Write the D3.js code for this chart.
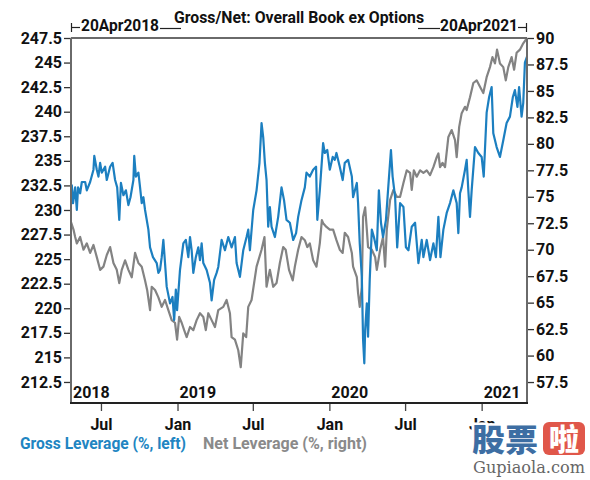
<!DOCTYPE html>
<html>
<head>
<meta charset="utf-8">
<script src="https://cdn.jsdelivr.net/npm/d3@7"></script>
<style>
  html, body { margin: 0; padding: 0; background: #fff; }
  svg { display: block; }
  text { font-family: Roboto, "Liberation Sans", sans-serif; font-weight: bold; }
</style>
</head>
<body>
<svg id="chart" width="590" height="480"></svg>
<script>
// ---------- DATA ----------
const title = "Gross/Net: Overall Book ex Options";
const startLabel = "20Apr2018";
const endLabel = "20Apr2021";
const dateRange = ["2018-04-20", "2021-04-20"];
const leftTicks = [212.5, 215, 217.5, 220, 222.5, 225, 227.5, 230, 232.5, 235, 237.5, 240, 242.5, 245, 247.5];
const rightTicks = [57.5, 60, 62.5, 65, 67.5, 70, 72.5, 75, 77.5, 80, 82.5, 85, 87.5, 90];
const leftDomain = [210.36, 247.5];
const rightDomain = [55.52, 90];
const monthTicks = [["2018-07-01", "Jul"], ["2019-01-01", "Jan"], ["2019-07-01", "Jul"], ["2020-01-01", "Jan"], ["2020-07-01", "Jul"], ["2021-01-01", "Jan"]];
const yearLabels = [["2018-04-20", "2018"], ["2019-01-01", "2019"], ["2020-01-01", "2020"], ["2021-01-01", "2021"]];
const seriesNames = ["Gross Leverage (%, left)", "Net Leverage (%, right)"];

// Gross leverage (%), left axis
const gross = [
["2018-04-20",230.5],["2018-04-22",232.5],["2018-04-25",230.7],["2018-04-30",232.3],["2018-05-04",230.0],
["2018-05-07",232.3],["2018-05-12",231.7],["2018-05-16",232.85],["2018-05-24",232.85],["2018-05-28",232.0],
["2018-06-05",232.85],["2018-06-13",234.1],["2018-06-15",235.5],["2018-06-21",234.1],["2018-06-25",233.4],
["2018-06-29",234.8],["2018-07-03",233.8],["2018-07-11",234.4],["2018-07-15",233.05],["2018-07-23",234.4],
["2018-07-29",234.8],["2018-08-04",233.05],["2018-08-09",232.3],["2018-08-14",229.0],["2018-08-18",232.75],
["2018-08-24",231.5],["2018-08-30",232.0],["2018-09-05",230.5],["2018-09-10",231.3],["2018-09-17",233.05],
["2018-09-19",235.5],["2018-09-23",233.4],["2018-09-29",233.8],["2018-10-03",232.3],["2018-10-07",230.7],
["2018-10-11",231.3],["2018-10-15",230.0],["2018-10-23",228.0],["2018-10-27",226.2],["2018-11-03",225.2],
["2018-11-12",224.6],["2018-11-16",223.6],["2018-11-20",223.9],["2018-11-24",225.2],["2018-11-28",226.95],
["2018-12-02",224.6],["2018-12-06",222.2],["2018-12-14",220.5],["2018-12-20",221.15],["2018-12-24",218.8],
["2018-12-28",221.9],["2018-12-31",219.8],["2019-01-07",223.9],["2019-01-15",226.6],["2019-01-21",226.95],
["2019-01-27",225.2],["2019-01-31",227.25],["2019-02-04",225.9],["2019-02-08",223.6],["2019-02-14",225.2],
["2019-02-20",226.2],["2019-02-24",224.9],["2019-02-28",226.6],["2019-03-04",224.6],["2019-03-12",223.9],
["2019-03-20",222.6],["2019-03-24",220.8],["2019-03-30",222.9],["2019-04-05",223.6],["2019-04-09",224.2],
["2019-04-17",226.95],["2019-04-25",225.9],["2019-05-03",227.25],["2019-05-11",226.2],["2019-05-19",227.25],
["2019-05-23",224.6],["2019-05-31",223.2],["2019-06-08",225.9],["2019-06-16",227.25],["2019-06-20",228.0],
["2019-06-24",225.9],["2019-07-02",230.0],["2019-07-10",232.0],["2019-07-17",234.8],["2019-07-22",238.85],
["2019-07-26",237.4],["2019-07-30",234.8],["2019-08-03",233.05],["2019-08-07",228.3],["2019-08-11",230.3],
["2019-08-15",228.3],["2019-08-23",227.25],["2019-08-31",229.3],["2019-09-08",232.3],["2019-09-14",231.0],
["2019-09-20",229.0],["2019-09-28",228.7],["2019-10-06",226.95],["2019-10-13",227.65],["2019-10-18",229.3],
["2019-10-26",231.0],["2019-11-03",232.3],["2019-11-07",233.8],["2019-11-15",233.4],["2019-11-23",234.1],
["2019-11-30",234.4],["2019-12-03",229.0],["2019-12-09",232.0],["2019-12-17",236.8],["2019-12-21",235.8],
["2019-12-27",236.1],["2020-01-02",234.1],["2020-01-09",235.4],["2020-01-14",235.1],["2020-01-18",235.8],
["2020-01-26",234.4],["2020-02-02",233.05],["2020-02-07",234.8],["2020-02-15",235.1],["2020-02-24",233.4],
["2020-02-27",231.3],["2020-03-07",232.75],["2020-03-10",230.7],["2020-03-14",226.6],["2020-03-19",223.2],
["2020-03-22",216.8],["2020-03-25",214.4],["2020-03-27",217.8],["2020-03-31",220.5],["2020-04-03",217.1],
["2020-04-07",222.9],["2020-04-12",228.0],["2020-04-17",227.25],["2020-04-24",225.9],["2020-04-29",232.0],
["2020-05-04",228.7],["2020-05-09",227.25],["2020-05-16",229.0],["2020-05-21",232.0],["2020-05-28",236.1],
["2020-06-01",233.4],["2020-06-07",231.3],["2020-06-12",226.2],["2020-06-19",230.7],["2020-06-27",230.3],
["2020-07-03",226.2],["2020-07-09",225.9],["2020-07-17",228.3],["2020-07-25",228.7],["2020-08-02",224.6],
["2020-08-10",226.95],["2020-08-14",225.2],["2020-08-22",226.95],["2020-08-30",224.9],["2020-09-07",226.6],
["2020-09-13",225.2],["2020-09-19",229.3],["2020-09-24",225.2],["2020-10-01",228.0],["2020-10-09",229.7],
["2020-10-17",230.7],["2020-10-25",232.0],["2020-11-02",230.7],["2020-11-06",227.65],["2020-11-10",231.7],
["2020-11-14",232.3],["2020-11-22",234.1],["2020-11-26",235.1],["2020-11-30",232.0],["2020-12-04",229.3],
["2020-12-08",232.0],["2020-12-16",236.4],["2020-12-24",235.8],["2021-01-01",235.4],["2021-01-06",233.4],
["2021-01-13",239.9],["2021-01-19",241.5],["2021-01-25",242.5],["2021-01-29",237.8],["2021-02-06",236.4],
["2021-02-14",235.4],["2021-02-22",237.1],["2021-03-02",238.85],["2021-03-10",239.5],["2021-03-17",241.5],
["2021-03-22",242.2],["2021-03-28",240.5],["2021-04-01",242.5],["2021-04-07",239.5],["2021-04-11",240.9],
["2021-04-15",245.0],["2021-04-20",245.6]
];

// Net leverage (%), right axis
const net = [
["2018-04-20",72.6],["2018-04-26",71.9],["2018-04-30",71.2],["2018-05-04",70.6],["2018-05-12",71.2],
["2018-05-20",70.0],["2018-05-28",70.6],["2018-06-05",69.7],["2018-06-13",70.45],["2018-06-21",69.3],
["2018-06-29",68.1],["2018-07-07",68.4],["2018-07-15",69.5],["2018-07-23",70.25],["2018-07-31",68.75],
["2018-08-08",68.1],["2018-08-14",66.85],["2018-08-20",68.1],["2018-08-28",69.0],["2018-09-05",68.1],
["2018-09-13",67.4],["2018-09-21",69.7],["2018-09-29",68.75],["2018-10-07",68.4],["2018-10-15",67.1],
["2018-10-20",66.2],["2018-10-27",64.3],["2018-10-31",66.5],["2018-11-08",66.2],["2018-11-16",65.5],
["2018-11-24",64.6],["2018-12-02",65.25],["2018-12-10",64.3],["2018-12-18",63.35],["2018-12-26",63.1],
["2018-12-31",61.5],["2019-01-05",63.65],["2019-01-11",63.1],["2019-01-17",62.4],["2019-01-23",61.75],
["2019-01-31",62.7],["2019-02-08",62.4],["2019-02-16",63.35],["2019-02-24",64.0],["2019-03-04",63.65],
["2019-03-10",62.4],["2019-03-16",64.0],["2019-03-24",63.35],["2019-04-01",62.7],["2019-04-09",64.3],
["2019-04-21",64.6],["2019-04-29",65.25],["2019-05-07",64.0],["2019-05-11",61.75],["2019-05-19",61.5],
["2019-05-27",60.5],["2019-06-02",58.9],["2019-06-08",62.1],["2019-06-15",61.75],["2019-06-20",64.6],
["2019-06-28",65.25],["2019-07-10",68.4],["2019-07-22",70.0],["2019-07-29",71.2],["2019-08-03",66.5],
["2019-08-11",68.1],["2019-08-19",66.5],["2019-08-27",66.85],["2019-09-04",68.75],["2019-09-12",70.25],
["2019-09-18",70.0],["2019-09-26",68.1],["2019-10-05",67.1],["2019-10-10",68.4],["2019-10-18",70.0],
["2019-10-26",71.2],["2019-11-03",70.9],["2019-11-09",70.25],["2019-11-15",70.6],["2019-11-23",69.0],
["2019-12-01",68.4],["2019-12-09",70.6],["2019-12-14",72.8],["2019-12-17",72.5],["2019-12-25",72.15],
["2020-01-02",71.9],["2020-01-10",71.9],["2020-01-18",70.9],["2020-01-26",70.0],["2020-02-02",69.7],
["2020-02-07",71.6],["2020-02-15",71.2],["2020-02-24",69.7],["2020-02-27",68.4],["2020-03-07",67.4],
["2020-03-10",65.9],["2020-03-14",64.6],["2020-03-19",66.5],["2020-03-22",73.1],["2020-03-27",74.0],
["2020-03-31",71.9],["2020-04-03",70.25],["2020-04-12",70.0],["2020-04-20",69.3],["2020-04-24",68.1],
["2020-05-02",70.0],["2020-05-09",71.2],["2020-05-14",68.4],["2020-05-18",71.9],["2020-05-26",74.7],
["2020-06-03",75.65],["2020-06-11",75.0],["2020-06-19",75.0],["2020-06-27",76.3],["2020-07-05",77.5],
["2020-07-13",77.25],["2020-07-17",75.65],["2020-07-22",77.5],["2020-07-29",76.9],["2020-08-06",77.5],
["2020-08-14",77.25],["2020-08-22",77.5],["2020-08-30",77.05],["2020-09-07",77.8],["2020-09-15",78.75],
["2020-09-19",79.1],["2020-09-23",77.8],["2020-09-29",78.2],["2020-10-05",77.8],["2020-10-13",80.65],
["2020-10-21",81.3],["2020-10-29",80.35],["2020-11-02",78.75],["2020-11-08",81.6],["2020-11-14",82.9],
["2020-11-22",83.5],["2020-11-26",83.2],["2020-12-04",84.4],["2020-12-12",85.75],["2020-12-20",86.0],
["2020-12-28",85.4],["2021-01-05",84.8],["2021-01-13",86.3],["2021-01-21",87.25],["2021-01-27",88.2],
["2021-02-02",87.6],["2021-02-07",88.9],["2021-02-14",87.6],["2021-02-22",87.25],["2021-02-28",86.0],
["2021-03-06",87.25],["2021-03-14",88.2],["2021-03-20",87.0],["2021-03-26",88.6],["2021-04-03",88.9],
["2021-04-11",89.5],["2021-04-20",90.0]
];

// ---------- CHART ----------
const parse = d3.timeParse("%Y-%m-%d");
const svg = d3.select("#chart");
const L = 71, R = 527, T = 38, B = 403;
const blue = "#1c7fc0", gray = "#838383", frame = "#6a6a6a";

const x = d3.scaleTime().domain(dateRange.map(parse)).range([L, R]);
const yL = d3.scaleLinear().domain(leftDomain).range([B, T]);
const yR = d3.scaleLinear().domain(rightDomain).range([B, T]);
const fmt = v => d3.format("")(v);

svg.append("clipPath").attr("id", "clip").append("rect")
  .attr("x", L).attr("y", T).attr("width", R - L).attr("height", B - T);

// Net line (right axis)
svg.append("path").datum(net)
  .attr("clip-path", "url(#clip)")
  .attr("fill", "none").attr("stroke", gray).attr("stroke-width", 2.2)
  .attr("stroke-linejoin", "round")
  .attr("d", d3.line().x(d => x(parse(d[0]))).y(d => yR(d[1])));

// Gross line (left axis)
svg.append("path").datum(gross)
  .attr("clip-path", "url(#clip)")
  .attr("fill", "none").attr("stroke", blue).attr("stroke-width", 2.2)
  .attr("stroke-linejoin", "round")
  .attr("d", d3.line().x(d => x(parse(d[0]))).y(d => yL(d[1])));

// Left axis
const gL = svg.append("g").attr("transform", `translate(${L},0)`)
  .call(d3.axisLeft(yL).tickValues(leftTicks).tickFormat(fmt).tickSize(7).tickPadding(2));
// Right axis
const gR = svg.append("g").attr("transform", `translate(${R},0)`)
  .call(d3.axisRight(yR).tickValues(rightTicks).tickFormat(fmt).tickSize(7).tickPadding(2));
[gL, gR].forEach(g => {
  g.select(".domain").remove();
  g.selectAll(".tick line").attr("stroke", "#333").attr("stroke-width", 1.3);
  g.selectAll(".tick text").attr("fill", "#111").style("font-size", "16px")
    .style("font-family", "Roboto").style("font-weight", "bold");
});

// Bottom axis with month ticks
const gB = svg.append("g").attr("transform", `translate(0,${B})`)
  .call(d3.axisBottom(x).tickValues(monthTicks.map(d => parse(d[0])))
    .tickFormat((d, i) => monthTicks[i][1]).tickSize(8).tickPadding(8));
gB.select(".domain").remove();
gB.selectAll(".tick line").attr("stroke", "#444").attr("stroke-width", 1.3);
gB.selectAll(".tick text").attr("fill", "#111").style("font-size", "16px")
  .style("font-family", "Roboto").style("font-weight", "bold");

// Frame
svg.append("line").attr("x1", L).attr("x2", R).attr("y1", T).attr("y2", T)
  .attr("stroke", frame).attr("stroke-width", 2);
svg.append("line").attr("x1", L).attr("x2", L).attr("y1", T).attr("y2", B)
  .attr("stroke", frame).attr("stroke-width", 2);
svg.append("line").attr("x1", R).attr("x2", R).attr("y1", T).attr("y2", B)
  .attr("stroke", frame).attr("stroke-width", 2);
svg.append("line").attr("x1", L - 1).attr("x2", R + 1).attr("y1", B).attr("y2", B)
  .attr("stroke", "#222").attr("stroke-width", 2);

// Year labels inside plot
svg.selectAll("text.year").data(yearLabels).enter().append("text")
  .attr("class", "year")
  .attr("x", d => x(parse(d[0])) + 2).attr("y", B - 5)
  .attr("fill", "#111").style("font-size", "16px")
  .text(d => d[1]);

// Title and date range brackets
svg.append("text").attr("x", 174).attr("y", 23).attr("fill", "#111")
  .style("font-size", "16px").attr("textLength", 250).attr("lengthAdjust", "spacingAndGlyphs")
  .text(title);
svg.append("text").attr("x", 81).attr("y", 31).attr("fill", "#111")
  .style("font-size", "16px").attr("textLength", 78).attr("lengthAdjust", "spacingAndGlyphs")
  .text(startLabel);
svg.append("text").attr("x", 440).attr("y", 31).attr("fill", "#111")
  .style("font-size", "16px").attr("textLength", 78).attr("lengthAdjust", "spacingAndGlyphs")
  .text(endLabel);
const bk = svg.append("g").attr("stroke", "#222").attr("stroke-width", 1.2);
bk.append("line").attr("x1", L + 0.5).attr("x2", L + 0.5).attr("y1", 23).attr("y2", 32);
bk.append("line").attr("x1", L).attr("x2", 80).attr("y1", 27.5).attr("y2", 27.5);
bk.append("line").attr("x1", 160).attr("x2", 181).attr("y1", 28.5).attr("y2", 28.5);
bk.append("line").attr("x1", 418).attr("x2", 440).attr("y1", 28.5).attr("y2", 28.5);
bk.append("line").attr("x1", 518).attr("x2", R).attr("y1", 27.5).attr("y2", 27.5);
bk.append("line").attr("x1", R - 0.5).attr("x2", R - 0.5).attr("y1", 23).attr("y2", 32);

// Legend
svg.append("text").attr("x", 20).attr("y", 449).attr("fill", "#2185c2")
  .style("font-size", "16px").attr("textLength", 166).attr("lengthAdjust", "spacingAndGlyphs")
  .text(seriesNames[0]);
svg.append("text").attr("x", 203).attr("y", 449).attr("fill", "#8a8a8a")
  .style("font-size", "16px").attr("textLength", 164).attr("lengthAdjust", "spacingAndGlyphs")
  .text(seriesNames[1]);

// Watermark
const wm = svg.append("g");
wm.append("text").attr("x", 472).attr("y", 451).attr("fill", "#3d6ea3")
  .attr("stroke", "#fff").attr("stroke-width", 5).attr("paint-order", "stroke")
  .style("font-family", "'Noto Sans CJK SC'").style("font-size", "31px").style("font-weight", "900")
  .attr("textLength", 66).attr("lengthAdjust", "spacingAndGlyphs")
  .text("股票");
wm.append("rect").attr("x", 543).attr("y", 422).attr("width", 42).attr("height", 33).attr("rx", 6)
  .attr("fill", "#e0574a");
wm.append("text").attr("x", 564).attr("y", 450).attr("text-anchor", "middle").attr("fill", "#fff")
  .style("font-family", "'Noto Sans CJK SC'").style("font-size", "30px").style("font-weight", "900")
  .text("啦");
wm.append("text").attr("x", 473).attr("y", 473).attr("fill", "#666")
  .style("font-family", "'DejaVu Serif'").style("font-weight", "normal").style("font-size", "16px")
  .attr("textLength", 112).attr("lengthAdjust", "spacingAndGlyphs")
  .text("Gupiaola.com");
</script>
</body>
</html>
